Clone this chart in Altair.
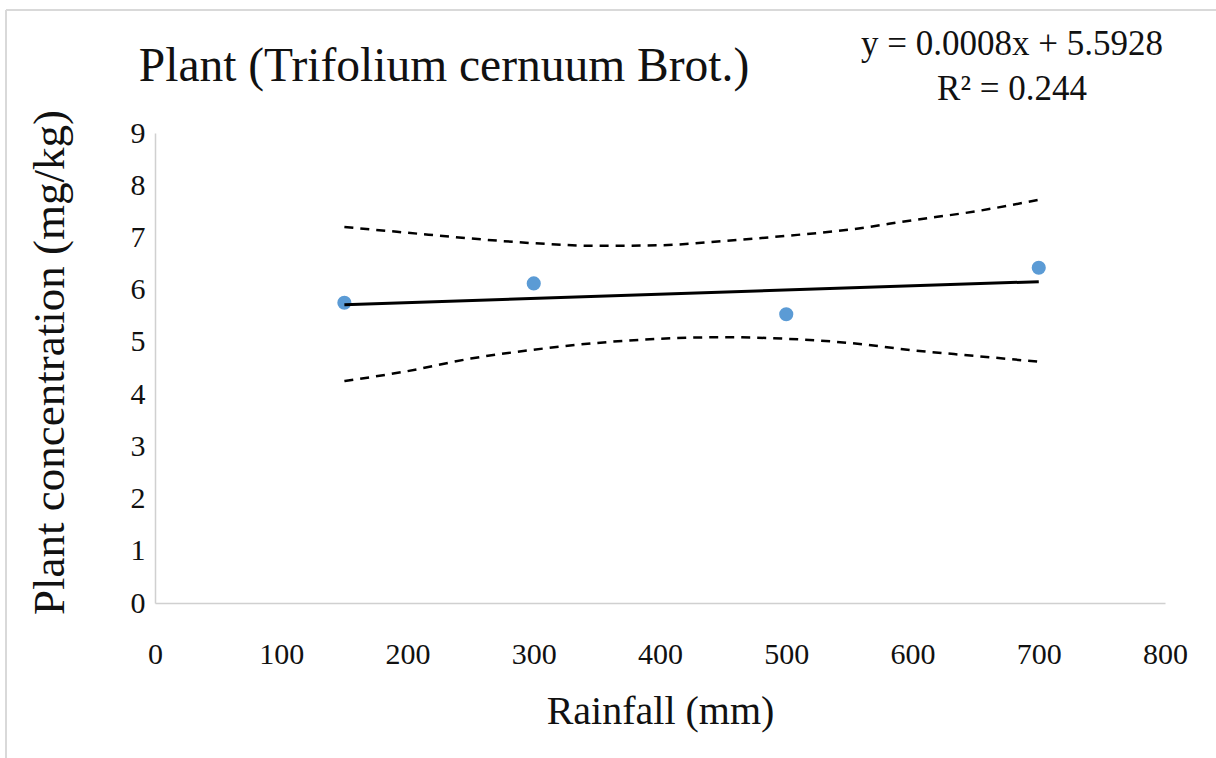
import altair as alt
import pandas as pd

# Observed data
rain = [150, 300, 500, 700]
conc = [5.75, 6.12, 5.53, 6.42]

# Linear trend line (as printed on chart)
trend_x = [150, 700]
trend_y = [5.713, 6.153]

# Confidence band
band_x = [150, 200, 250, 300, 350, 400, 450, 500, 550, 600, 650, 700]
band_upper = [7.20, 7.09, 6.98, 6.89, 6.84, 6.85, 6.93, 7.03, 7.15, 7.33, 7.50, 7.72]
band_lower = [4.25, 4.44, 4.68, 4.85, 4.98, 5.06, 5.09, 5.06, 4.98, 4.84, 4.73, 4.62]

x_ticks = [0, 100, 200, 300, 400, 500, 600, 700, 800]
y_ticks = [0, 1, 2, 3, 4, 5, 6, 7, 8, 9]

FONT = "'Liberation Serif', 'DejaVu Serif', 'Times New Roman', serif"
W, H = 1010, 470

pts = pd.DataFrame({"x": rain, "y": conc})
trend = pd.DataFrame({"x": trend_x, "y": trend_y})
band = pd.DataFrame({
    "x": band_x * 2,
    "y": band_upper + band_lower,
    "side": ["upper"] * len(band_x) + ["lower"] * len(band_x),
})

xs = alt.Scale(domain=[0, 800], nice=False)
ys = alt.Scale(domain=[0, 9], nice=False)

xaxis = alt.Axis(values=x_ticks, title="Rainfall (mm)", grid=False, ticks=False,
                 domainColor="#d0d0d0", domainWidth=1.5, labelPadding=36, labelFlush=False,
                 labelFont=FONT, labelFontSize=30, labelColor="#111",
                 titleFont=FONT, titleFontSize=40, titleFontWeight="normal", titleColor="#111",
                 titleY=120, titleBaseline="alphabetic")
yaxis = alt.Axis(values=y_ticks, title="Plant concentration (mg/kg)", grid=False, ticks=False,
                 domainColor="#d0d0d0", domainWidth=1.5, labelPadding=10, labelFlush=False,
                 labelFont=FONT, labelFontSize=30, labelColor="#111",
                 titleFont=FONT, titleFontSize=45, titleFontWeight="normal", titleColor="#111",
                 titleX=-92, titleY=229, titleBaseline="alphabetic")

points = alt.Chart(pts).mark_circle(size=200, color="#5B9BD5", opacity=1).encode(
    x=alt.X("x:Q", scale=xs, axis=xaxis),
    y=alt.Y("y:Q", scale=ys, axis=yaxis),
)

trend_line = alt.Chart(trend).mark_line(color="black", strokeWidth=3).encode(
    x=alt.X("x:Q", scale=xs), y=alt.Y("y:Q", scale=ys)
)

band_lines = alt.Chart(band).mark_line(color="black", strokeWidth=2.5, strokeDash=[9, 7],
                                        interpolate="monotone").encode(
    x=alt.X("x:Q", scale=xs), y=alt.Y("y:Q", scale=ys), detail="side:N"
)

title = alt.Chart(pd.DataFrame({"t": ["Plant (Trifolium cernuum Brot.)"]})).mark_text(
    font=FONT, fontSize=47.5, color="#111", align="center", baseline="alphabetic"
).encode(x=alt.value(289), y=alt.value(-52), text="t:N")

eq = alt.Chart(pd.DataFrame({"t": ["y = 0.0008x + 5.5928", "R² = 0.244"],
                             "py": [-78, -33]})).mark_text(
    font=FONT, fontSize=35, color="#111", align="center", baseline="alphabetic"
).encode(x=alt.value(857), y=alt.Y("py:Q", scale=None), text="t:N")

border_top = alt.Chart(pd.DataFrame({"a": [0]})).mark_rule(color="#d9d9d9", strokeWidth=2).encode(
    x=alt.value(-149), x2=alt.value(1070), y=alt.value(-123))
border_left = alt.Chart(pd.DataFrame({"a": [0]})).mark_rule(color="#d9d9d9", strokeWidth=2).encode(
    x=alt.value(-149), y=alt.value(-123), y2=alt.value(640))

chart = alt.layer(border_top, border_left, band_lines, points, trend_line, title, eq).properties(
    width=W, height=H,
    autosize=alt.AutoSizeParams(type="none"),
    padding={"left": 155, "top": 133, "right": 51, "bottom": 155},
    background="white",
).configure_view(stroke=None)

chart.save("out.html", embed_options={"renderer": "svg", "actions": False})
